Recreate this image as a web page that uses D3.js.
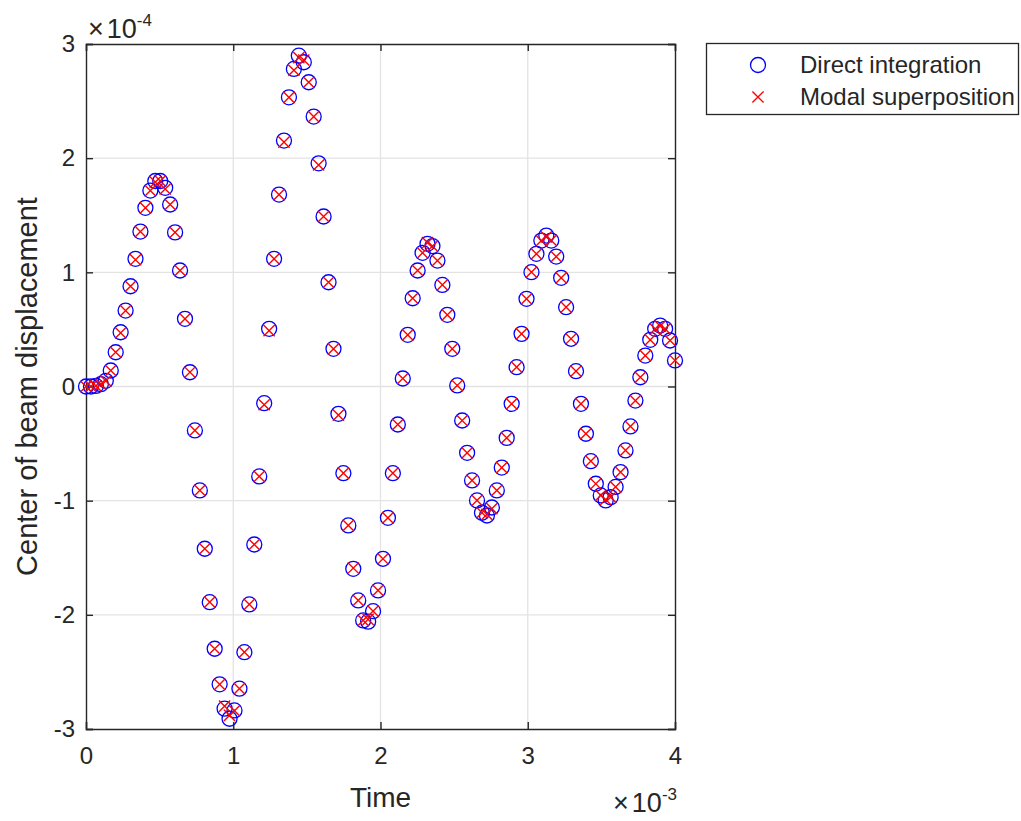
<!DOCTYPE html>
<html>
<head>
<meta charset="utf-8">
<script src="https://cdn.jsdelivr.net/npm/d3@7"></script>
<style>
  html, body { margin: 0; padding: 0; background: #fff; }
  svg { display: block; }
  text { font-family: "Liberation Sans", Arial, Helvetica, sans-serif; fill: #262626; }
</style>
</head>
<body>
<div id="chart"></div>
<script>
// Time samples (units of 1e-3 s)
const timeMs = [
  0, 0.0336, 0.0672, 0.1008, 0.1345, 0.1681, 0.2017, 0.2353, 0.2689, 0.3025,
  0.3361, 0.3697, 0.4034, 0.4370, 0.4706, 0.5042, 0.5378, 0.5714, 0.6050, 0.6387,
  0.6723, 0.7059, 0.7395, 0.7731, 0.8067, 0.8403, 0.8739, 0.9076, 0.9412, 0.9748,
  1.0084, 1.0420, 1.0756, 1.1092, 1.1429, 1.1765, 1.2101, 1.2437, 1.2773, 1.3109,
  1.3445, 1.3782, 1.4118, 1.4454, 1.4790, 1.5126, 1.5462, 1.5798, 1.6134, 1.6471,
  1.6807, 1.7143, 1.7479, 1.7815, 1.8151, 1.8487, 1.8824, 1.9160, 1.9496, 1.9832,
  2.0168, 2.0504, 2.0840, 2.1176, 2.1513, 2.1849, 2.2185, 2.2521, 2.2857, 2.3193,
  2.3529, 2.3866, 2.4202, 2.4538, 2.4874, 2.5210, 2.5546, 2.5882, 2.6218, 2.6555,
  2.6891, 2.7227, 2.7563, 2.7899, 2.8235, 2.8571, 2.8908, 2.9244, 2.9580, 2.9916,
  3.0252, 3.0588, 3.0924, 3.1261, 3.1597, 3.1933, 3.2269, 3.2605, 3.2941, 3.3277,
  3.3613, 3.3950, 3.4286, 3.4622, 3.4958, 3.5294, 3.5630, 3.5966, 3.6303, 3.6639,
  3.6975, 3.7311, 3.7647, 3.7983, 3.8319, 3.8655, 3.8992, 3.9328, 3.9664, 4.0000
];

// Center of beam displacement, direct integration (units of 1e-4)
const directIntegration = [
  0, 0, 0.005, 0.02, 0.05, 0.14, 0.30, 0.475, 0.665, 0.878,
  1.118, 1.357, 1.565, 1.716, 1.80, 1.80, 1.74, 1.594, 1.35, 1.016,
  0.593, 0.125, -0.385, -0.91, -1.421, -1.889, -2.297, -2.609, -2.822, -2.91,
  -2.837, -2.647, -2.327, -1.909, -1.384, -0.788, -0.146, 0.505, 1.118, 1.681,
  2.154, 2.533, 2.782, 2.898, 2.84, 2.665, 2.364, 1.955, 1.489, 0.913,
  0.330, -0.239, -0.759, -1.217, -1.597, -1.874, -2.049, -2.06, -1.968, -1.786,
  -1.509, -1.15, -0.759, -0.333, 0.07, 0.453, 0.773, 1.016, 1.171, 1.25,
  1.23, 1.103, 0.89, 0.628, 0.33, 0.009, -0.298, -0.581, -0.823, -0.998,
  -1.106, -1.13, -1.06, -0.91, -0.71, -0.45, -0.152, 0.169, 0.461, 0.768,
  1.001, 1.162, 1.278, 1.322, 1.278, 1.138, 0.952, 0.695, 0.418, 0.134,
  -0.152, -0.414, -0.654, -0.852, -0.954, -0.998, -0.97, -0.88, -0.75, -0.56,
  -0.35, -0.123, 0.081, 0.271, 0.409, 0.505, 0.534, 0.505, 0.403, 0.228
];

// Center of beam displacement, modal superposition (units of 1e-4)
const modalSuperposition = [
  0, 0, 0.005, 0.02, 0.05, 0.14, 0.30, 0.47, 0.665, 0.878,
  1.11, 1.357, 1.565, 1.716, 1.79, 1.80, 1.73, 1.594, 1.35, 1.016,
  0.593, 0.125, -0.385, -0.91, -1.421, -1.889, -2.297, -2.609, -2.80, -2.88,
  -2.84, -2.647, -2.327, -1.909, -1.384, -0.788, -0.16, 0.49, 1.118, 1.681,
  2.14, 2.533, 2.77, 2.88, 2.86, 2.665, 2.364, 1.94, 1.489, 0.913,
  0.330, -0.25, -0.759, -1.217, -1.59, -1.874, -2.049, -2.04, -1.968, -1.786,
  -1.509, -1.15, -0.759, -0.333, 0.07, 0.453, 0.773, 1.016, 1.171, 1.26,
  1.23, 1.103, 0.89, 0.628, 0.33, 0.009, -0.298, -0.581, -0.823, -0.998,
  -1.106, -1.12, -1.07, -0.91, -0.71, -0.45, -0.152, 0.169, 0.461, 0.768,
  1.001, 1.162, 1.278, 1.31, 1.28, 1.138, 0.952, 0.695, 0.418, 0.134,
  -0.152, -0.414, -0.654, -0.852, -0.954, -0.99, -0.97, -0.88, -0.75, -0.56,
  -0.35, -0.123, 0.081, 0.271, 0.409, 0.505, 0.53, 0.505, 0.403, 0.228
];

const xTicks = [0, 1, 2, 3, 4];
const yTicks = [-3, -2, -1, 0, 1, 2, 3];
const xLabel = "Time";
const yLabel = "Center of beam displacement";
const xExponent = "-3";
const yExponent = "-4";
const seriesNames = ["Direct integration", "Modal superposition"];

const W = 1021, H = 821;
const plot = { left: 86, right: 675, top: 44, bottom: 729 };
const ink = "#262626";
const axisFont = 24, labelFont = 28, legendFont = 24, expFont = 17;

const svg = d3.select("#chart").append("svg").attr("width", W).attr("height", H);

const x = d3.scaleLinear().domain([0, 4]).range([plot.left, plot.right]);
const y = d3.scaleLinear().domain([-3, 3]).range([plot.bottom, plot.top]);

// grid
const grid = svg.append("g");
grid.selectAll("line.gx").data(xTicks.slice(1, -1)).join("line")
  .attr("x1", d => x(d)).attr("x2", d => x(d))
  .attr("y1", plot.top).attr("y2", plot.bottom)
  .attr("stroke", "#e3e3e3").attr("stroke-width", 1.3);
grid.selectAll("line.gy").data(yTicks.slice(1, -1)).join("line")
  .attr("y1", d => y(d)).attr("y2", d => y(d))
  .attr("x1", plot.left).attr("x2", plot.right)
  .attr("stroke", "#e3e3e3").attr("stroke-width", 1.3);

// axes (ticks inside, all four sides)
const tickLen = 7;
const fmt = d => String(d);
const gB = svg.append("g").attr("transform", `translate(0,${plot.bottom})`)
  .call(d3.axisBottom(x).tickValues(xTicks).tickSize(-tickLen).tickPadding(18).tickFormat(fmt));
const gT = svg.append("g").attr("transform", `translate(0,${plot.top})`)
  .call(d3.axisTop(x).tickValues(xTicks).tickSize(-tickLen).tickFormat(""));
const gL = svg.append("g").attr("transform", `translate(${plot.left},0)`)
  .call(d3.axisLeft(y).tickValues(yTicks).tickSize(-tickLen).tickPadding(11).tickFormat(fmt));
const gR = svg.append("g").attr("transform", `translate(${plot.right},0)`)
  .call(d3.axisRight(y).tickValues(yTicks).tickSize(-tickLen).tickFormat(""));
[gB, gT, gL, gR].forEach(g => {
  g.select(".domain").attr("stroke", ink).attr("stroke-width", 1.4);
  g.selectAll(".tick line").attr("stroke", ink).attr("stroke-width", 1.4);
  g.selectAll(".tick text").attr("fill", ink)
    .style("font-family", '"Liberation Sans", Arial, sans-serif').style("font-size", axisFont + "px");
});

// data
const pts = timeMs.map((t, i) => ({ t, d: directIntegration[i], m: modalSuperposition[i] }));
svg.append("g").selectAll("circle").data(pts).join("circle")
  .attr("cx", p => x(p.t)).attr("cy", p => y(p.d)).attr("r", 7.5)
  .attr("fill", "none").attr("stroke", "#0000ff").attr("stroke-width", 1.3);
const cs = 5.6;
const crossPath = (cx, cy) => `M${cx - cs},${cy - cs}L${cx + cs},${cy + cs}M${cx - cs},${cy + cs}L${cx + cs},${cy - cs}`;
svg.append("g").selectAll("path").data(pts).join("path")
  .attr("d", p => crossPath(x(p.t), y(p.m)))
  .attr("fill", "none").attr("stroke", "#ff0000").attr("stroke-width", 1.4);

// exponent labels
function expLabel(xPos, yPos, anchor, exponent) {
  const t = svg.append("text").attr("x", xPos).attr("y", yPos).attr("text-anchor", anchor)
    .style("font-size", (axisFont + 3) + "px");
  t.append("tspan").style("font-weight", "300").text("\u00d7");
  t.append("tspan").attr("dx", 3).text("10");
  t.append("tspan").attr("dy", -12).style("font-size", expFont + "px").text(exponent);
}
expLabel(plot.left + 2, 38, "start", yExponent);
expLabel(plot.right + 2, 812, "end", xExponent);

// axis labels
svg.append("text").attr("x", (plot.left + plot.right) / 2).attr("y", 807)
  .attr("text-anchor", "middle").style("font-size", labelFont + "px").text(xLabel);
svg.append("text").attr("transform", `translate(37,${(plot.top + plot.bottom) / 2}) rotate(-90)`)
  .attr("text-anchor", "middle").style("font-size", (labelFont + 1) + "px").text(yLabel);

// legend
const lg = svg.append("g");
lg.append("rect").attr("x", 706.5).attr("y", 43.5).attr("width", 312).attr("height", 71)
  .attr("fill", "#fff").attr("stroke", ink).attr("stroke-width", 1.3);
const rowsY = [65, 97];
lg.append("circle").attr("cx", 758).attr("cy", rowsY[0]).attr("r", 7.5)
  .attr("fill", "none").attr("stroke", "#0000ff").attr("stroke-width", 1.3);
lg.append("path").attr("d", crossPath(758, rowsY[1]))
  .attr("fill", "none").attr("stroke", "#ff0000").attr("stroke-width", 1.4);
lg.selectAll("text").data(seriesNames).join("text")
  .attr("x", 800).attr("y", (d, i) => rowsY[i]).attr("dy", "0.35em")
  .style("font-size", legendFont + "px").text(d => d);
</script>
</body>
</html>
